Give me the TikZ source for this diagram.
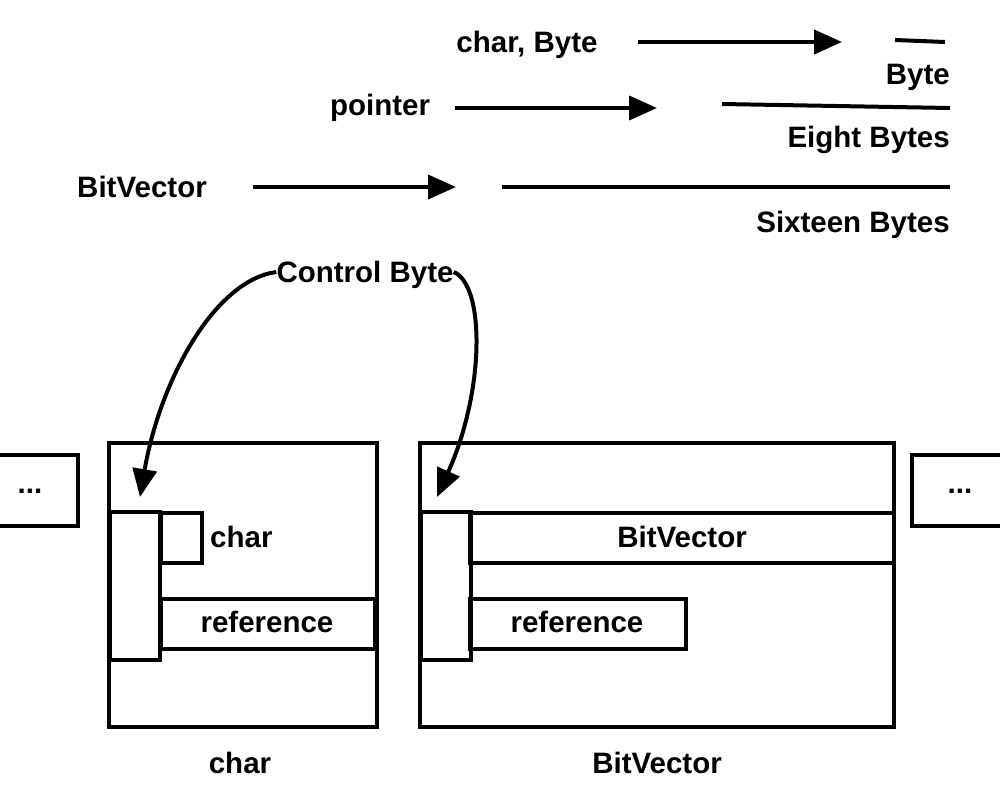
\documentclass[tikz,border=0pt]{standalone}
\usepackage{fontspec}
\setmainfont{Liberation Sans}
\usetikzlibrary{arrows.meta}
\begin{document}
\begin{tikzpicture}[x=1pt,y=-1pt,
  lbl/.style={inner sep=0pt,text height=21pt,text depth=0pt,font=\fontsize{29.5}{34}\selectfont\bfseries},
  ln/.style={line width=4pt},
  arr/.style={line width=4pt,-{Triangle[length=28pt,width=24pt]}},
  bx/.style={draw,line width=4pt,rectangle,inner sep=0pt,anchor=north west}]
\useasboundingbox (0,0) rectangle (1000,800);
% top legend
\node[lbl] (t1) at (527,42) {char, Byte};
\coordinate (a1s) at (638,42); \coordinate (a1e) at (842,42);
\draw[arr] (a1s) -- (a1e);
\coordinate (l1s) at (895,40); \coordinate (l1e) at (945,42);
\draw[ln] (l1s) -- (l1e);
\node[lbl,anchor=east] (t1b) at (950,74) {Byte};

\node[lbl] (t2) at (380,105) {pointer};
\coordinate (a2s) at (455,108); \coordinate (a2e) at (657,108);
\draw[arr] (a2s) -- (a2e);
\coordinate (l2s) at (722,104); \coordinate (l2e) at (950,108);
\draw[ln] (l2s) -- (l2e);
\node[lbl,anchor=east] (t2b) at (950,137) {Eight Bytes};

\node[lbl] (t3) at (142,187) {BitVector};
\coordinate (a3s) at (253,187); \coordinate (a3e) at (456,187);
\draw[arr] (a3s) -- (a3e);
\coordinate (l3s) at (502,187); \coordinate (l3e) at (950,187);
\draw[ln] (l3s) -- (l3e);
\node[lbl,anchor=east] (t3b) at (950,222) {Sixteen Bytes};

% control byte
\node[lbl] (cb) at (365,272) {Control Byte};
\coordinate (cbl) at (140,497);
\coordinate (cbr) at (437,497);
\draw[arr] (cb.west) .. controls (215,280) and (160,380) .. (cbl);
\draw[arr] (cb.east) .. controls (485,285) and (485,390) .. (cbr);

% left dots box
\node[bx,minimum width=88pt,minimum height=71pt] (dl) at (-12,453) {};
\node[lbl] (dlt) at (30,483) {...};

% char object
\node[bx,minimum width=268pt,minimum height=284pt] (co) at (107,441) {};
\node[bx,minimum width=50pt,minimum height=148pt] (cc) at (108,510) {};
\node[bx,minimum width=41pt,minimum height=50pt] (cch) at (159,511) {};
\node[lbl,anchor=west] (cchl) at (210,537) {char};
\node[bx,minimum width=214pt,minimum height=50pt] (cref) at (159,597) {};
\node[lbl] (crefl) at (267,622) {reference};
\node[lbl] (colbl) at (240,763) {char};

% BitVector object
\node[bx,minimum width=474pt,minimum height=284pt] (bo) at (418,441) {};
\node[bx,minimum width=50pt,minimum height=148pt] (bc) at (419,510) {};
\node[bx,minimum width=424pt,minimum height=50pt] (bbv) at (468,511) {};
\node[lbl] (bbvl) at (682,537) {BitVector};
\node[bx,minimum width=216pt,minimum height=50pt] (bref) at (468,597) {};
\node[lbl] (brefl) at (577,622) {reference};
\node[lbl] (bolbl) at (657,763) {BitVector};

% right dots box
\node[bx,minimum width=110pt,minimum height=71pt] (dr) at (910,453) {};
\node[lbl] (drt) at (960,483) {...};
\end{tikzpicture}
\end{document}
